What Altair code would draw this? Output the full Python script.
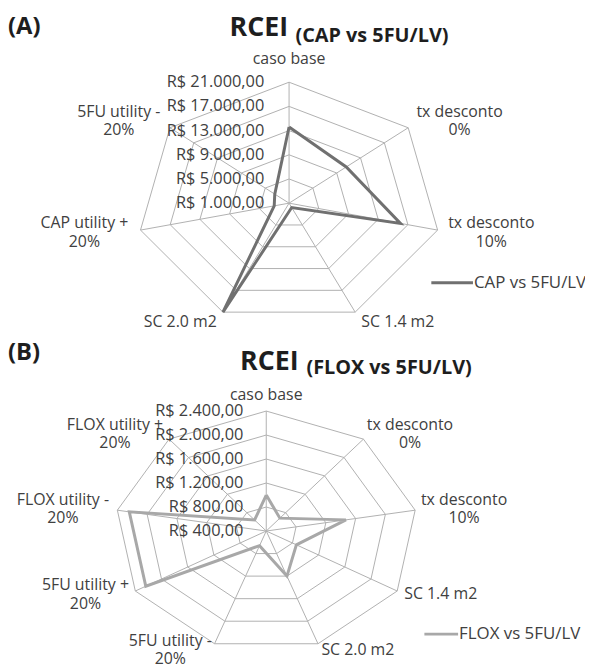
import altair as alt
import pandas as pd

# ---------------- data ----------------
cats_a = ["caso base", "tx desconto\n0%", "tx desconto\n10%", "SC 1.4 m2", "SC 2.0 m2",
          "CAP utility +\n20%", "5FU utility -\n20%"]
vals_a = [13600, 10600, 16000, 1800, 21000, 3000, 3400]
ticks_a = [1000, 5000, 9000, 13000, 17000, 21000]
series_a = "CAP vs 5FU/LV"
tag_a, main_a, sub_a = "(A)", "RCEI", "(CAP vs 5FU/LV)"

cats_b = ["caso base", "tx desconto\n0%", "tx desconto\n10%", "SC 1.4 m2", "SC 2.0 m2",
          "5FU utility -\n20%", "5FU utility +\n20%", "FLOX utility -\n20%", "FLOX utility +\n20%"]
vals_b = [1000, 680, 1470, 860, 1200, 660, 2240, 2240, 640]
ticks_b = [400, 800, 1200, 1600, 2000, 2400]
series_b = "FLOX vs 5FU/LV"
tag_b, main_b, sub_b = "(B)", "RCEI", "(FLOX vs 5FU/LV)"

# ---------------- layout (page pixels) ----------------
OX, OY = 8, 8
W, H = 582, 659
FONT = "Open Sans"
GRID = "#b0b0b0"
LABEL_C = "#404040"
TITLE_C = "#1e1e1e"
LBL_SIZE = 16
TICK_SIZE = 16.5
LEG_SIZE = 17
LH = 18.5

PA = dict(cx=291.5, cy=202, rx=153.7, ry=122, toff=25, gx=12, gy=11, gtop=23,
          color="#707070", leg=(435, 477, 282.3),
          tag=(8, 31), main=(231.5, 33.3), sub=(298, 39))
PB = dict(cx=268.5, cy=532.7, rx=152.5, ry=121, toff=23, gx=7, gy=7, gtop=16,
          color="#a8a8a8", leg=(428, 462, 636.7),
          tag=(8, 360), main=(242, 370.5), sub=(309, 374))

XS = alt.Scale(domain=[OX, OX + W], nice=False, zero=False)
YS = alt.Scale(domain=[OY, OY + H], nice=False, zero=False, reverse=True)


def X(f):
    return alt.X(f + ":Q", scale=XS, axis=None)


def Y(f):
    return alt.Y(f + ":Q", scale=YS, axis=None)


def brl(v):
    s = f"{v:,.2f}"
    return "R$ " + s.replace(",", "X").replace(".", ",").replace("X", ".")


EM = {' ': 0.26, '.': 0.27, ',': 0.25, 'i': 0.26, 'l': 0.26, 't': 0.36, 'f': 0.34,
      'r': 0.41, '-': 0.32, '+': 0.57, '%': 0.82, '/': 0.37, '(': 0.3, ')': 0.3,
      'm': 0.93, 'y': 0.5, 'x': 0.52, 'v': 0.5, 's': 0.48, 'c': 0.48}


def text_w(s, size=LBL_SIZE):
    def cw(c):
        if c in EM:
            return EM[c]
        if c.isdigit():
            return 0.57
        if c.isupper():
            return 0.65
        return 0.57
    return max(sum(cw(c) for c in line) for line in s.split("\n")) * size


def panel(cats, vals, ticks, series, tag, main, sub, P):
    n = len(cats)
    vmin, vmax = ticks[0], ticks[-1]
    cx, cy, rx, ry = P["cx"], P["cy"], P["rx"], P["ry"]
    th = f"(2*PI*datum.i/{n})"

    def frac(field):
        return f"((datum.{field}-{vmin})/({vmax}-{vmin}))"

    layers = []
    # rings
    ring_df = pd.DataFrame([{"ring": t, "i": i} for t in ticks[1:] for i in range(n + 1)])
    layers.append(
        alt.Chart(ring_df).transform_calculate(
            px=f"{cx} + {rx}*{frac('ring')}*sin({th})",
            py=f"{cy} - {ry}*{frac('ring')}*cos({th})",
        ).mark_line(color=GRID, strokeWidth=1).encode(
            x=X("px"), y=Y("py"), detail="ring:N", order="i:Q")
    )
    # spokes
    spoke_df = pd.DataFrame({"i": list(range(n))})
    layers.append(
        alt.Chart(spoke_df).transform_calculate(
            px=f"{cx}", py=f"{cy}",
            px2=f"{cx} + {rx}*sin({th})", py2=f"{cy} - {ry}*cos({th})",
        ).mark_rule(color=GRID, strokeWidth=1).encode(
            x=X("px"), y=Y("py"), x2="px2:Q", y2="py2:Q")
    )
    # series line
    data_df = pd.DataFrame({"i": list(range(n + 1)), "v": vals + [vals[0]]})
    layers.append(
        alt.Chart(data_df).transform_calculate(
            px=f"{cx} + {rx}*{frac('v')}*sin({th})",
            py=f"{cy} - {ry}*{frac('v')}*cos({th})",
        ).mark_line(color=P["color"], strokeWidth=3, strokeJoin="miter").encode(
            x=X("px"), y=Y("py"), order="i:Q")
    )
    # tick labels
    tick_df = pd.DataFrame({"t": ticks, "label": [brl(t) for t in ticks]})
    layers.append(
        alt.Chart(tick_df).transform_calculate(
            px=f"{cx - P['toff']}",
            py=f"{cy} - {ry}*{frac('t')}",
        ).mark_text(align="right", baseline="middle", font=FONT, fontSize=TICK_SIZE,
                    color=LABEL_C).encode(x=X("px"), y=Y("py"), text="label:N")
    )
    # category labels
    cat_df = pd.DataFrame({"i": list(range(n)), "label": cats,
                           "hw": [text_w(c) / 2 for c in cats],
                           "nl": [c.count("\n") + 1 for c in cats]})
    s = f"sin({th})"
    c = f"cos({th})"
    layers.append(
        alt.Chart(cat_df).transform_calculate(
            vx=f"{cx} + {rx}*{s}", vy=f"{cy} - {ry}*{c}",
        ).transform_calculate(
            px=f"abs({s}) < 0.1 ? datum.vx : datum.vx + {P['gx']}*{s} + ({s} > 0 ? 1 : -1)*datum.hw",
            py=f"(abs({s}) < 0.1 ? datum.vy - {P['gtop']}*{c} : datum.vy - {P['gy']}*{c})"
               f" - (datum.nl-1)*{LH}/2",
        ).mark_text(align="center", baseline="middle", font=FONT, fontSize=LBL_SIZE,
                    lineBreak="\n", lineHeight=LH, color=LABEL_C).encode(
            x=X("px"), y=Y("py"), text="label:N")
    )
    # legend
    lx1, lx2, ly = P["leg"]
    leg_df = pd.DataFrame({"s": [series]})
    layers.append(
        alt.Chart(leg_df).mark_rule(color=P["color"], strokeWidth=3).encode(
            x=alt.value(lx1 - OX), x2=alt.value(lx2 - OX), y=alt.value(ly - OY))
    )
    layers.append(
        alt.Chart(leg_df).mark_text(align="left", baseline="middle", font=FONT,
                                    fontSize=LEG_SIZE, color=LABEL_C).encode(
            x=alt.value(lx2 + 1 - OX), y=alt.value(ly - OY), text="s:N")
    )
    # titles
    for txt, pos, size in ((tag, P["tag"], 24), (main, P["main"], 27), (sub, P["sub"], 20)):
        layers.append(
            alt.Chart(pd.DataFrame({"s": [txt]})).mark_text(
                align="left", baseline="alphabetic", font=FONT, fontSize=size,
                fontWeight="bold", color=TITLE_C).encode(
                x=alt.value(pos[0] - OX), y=alt.value(pos[1] - OY), text="s:N")
        )
    return layers


layers = (panel(cats_a, vals_a, ticks_a, series_a, tag_a, main_a, sub_a, PA)
          + panel(cats_b, vals_b, ticks_b, series_b, tag_b, main_b, sub_b, PB))

chart = alt.layer(*layers).properties(
    width=W, height=H, padding=0,
    autosize=alt.AutoSizeParams(type="none"),
    background="white",
).configure_view(stroke=None)

chart.save("out.html", embed_options={"renderer": "svg", "actions": False})
